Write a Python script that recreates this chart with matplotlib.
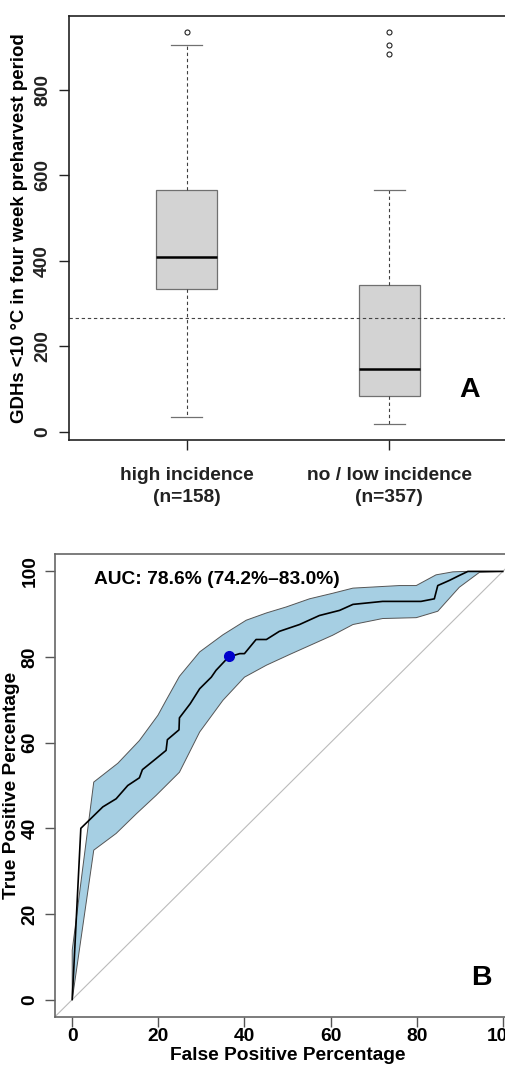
import matplotlib
matplotlib.use("Agg")
import matplotlib.pyplot as plt

plt.rcParams["font.family"] = ["Liberation Sans", "DejaVu Sans"]
plt.rcParams["font.weight"] = "bold"

FS = 13.8

# panel A: box plot summary of GDHs <10 °C
groups = ["high incidence\n(n=158)", "no / low incidence\n(n=357)"]
whis_lo = [34, 18]
q1 = [334, 84]
median = [408, 147]
q3 = [566, 344]
whis_hi = [905, 566]
outliers = [[934], [934, 904, 884]]
cutoff = 266

# panel B: ROC curve (false positive %, true positive %)
roc_fpr = [0, 2.0, 7.1, 10.2, 12.9, 15.6, 16.3, 19.5, 21.8, 22.1, 24.8, 24.9, 27.4,
           29.6, 32.3, 33.4, 36.3, 38.9, 40.0, 42.7, 45.1, 48.1, 52.8, 57.4, 62.1,
           65.2, 72.1, 81.0, 84.1, 84.9, 87.6, 90.0, 91.9, 100]
roc_tpr = [0, 40.0, 45.0, 46.9, 50.0, 51.8, 53.7, 56.3, 58.2, 60.7, 63.0, 65.8, 69.1,
           72.6, 75.3, 76.9, 80.0, 80.8, 80.8, 84.1, 84.1, 86.0, 87.6, 89.7, 90.9,
           92.3, 93.0, 93.0, 93.6, 96.7, 97.9, 99.1, 100, 100]
band_up_x = [0, 0, 5.0, 10.6, 15.6, 19.9, 21.8, 24.9, 29.6, 35.0, 40.4, 45.1, 49.7,
             55.1, 60.5, 65.2, 76.0, 79.9, 84.5, 88.4, 91.0, 100]
band_up_y = [0, 11.5, 50.8, 55.2, 60.5, 66.4, 69.9, 75.5, 81.2, 85.2, 88.6, 90.3, 91.7,
             93.6, 94.9, 96.1, 96.7, 96.7, 99.2, 99.9, 100, 100]
band_lo_x = [0, 5.0, 10.2, 14.9, 19.5, 24.9, 29.6, 35.0, 40.0, 45.1, 50.5, 60.5, 65.2,
             72.1, 79.9, 84.9, 89.9, 94.6, 100]
band_lo_y = [0, 34.9, 38.8, 43.4, 47.7, 53.1, 62.5, 69.9, 75.3, 78.1, 80.6, 85.1, 87.6,
             89.0, 89.2, 90.7, 96.3, 99.8, 100]
best_fpr = 36.5
best_tpr = 80.2
auc_text = "AUC: 78.6% (74.2%\u201383.0%)"

W, H = 505, 1066
fig = plt.figure(figsize=(W / 100, H / 100), dpi=100)
fig.patch.set_facecolor("white")

# ---------------- panel A ----------------
axA = fig.add_axes([69 / W, 1 - 440 / H, 438 / W, 424 / H])
stats = []
for i in range(len(groups)):
    stats.append(dict(med=median[i], q1=q1[i], q3=q3[i], whislo=whis_lo[i],
                      whishi=whis_hi[i], fliers=outliers[i], label=groups[i]))
axA.bxp(stats, positions=[1, 2], widths=0.3, patch_artist=True, showfliers=True,
        boxprops=dict(facecolor="#d3d3d3", edgecolor="#707070", linewidth=0.9),
        medianprops=dict(color="black", linewidth=1.8, solid_capstyle="butt"),
        whiskerprops=dict(color="#404040", linewidth=0.8, linestyle=(0, (3, 2.5))),
        capprops=dict(color="#707070", linewidth=0.9),
        flierprops=dict(marker="o", markersize=3.6, markerfacecolor="none",
                        markeredgecolor="#222222", markeredgewidth=0.8))
axA.axhline(cutoff, color="#444444", linewidth=0.8, linestyle=(0, (3, 2.5)))
axA.set_xlim(0.42, 2.58)
axA.set_ylim(-18.7, 972)
axA.set_yticks([0, 200, 400, 600, 800])
axA.set_xticks([1, 2])
axA.set_xticklabels(groups, fontsize=FS, fontweight="bold", linespacing=1.35)
axA.tick_params(axis="x", length=7, width=1, pad=12.5, colors="#222222")
axA.tick_params(axis="y", length=7, width=1, pad=6, labelsize=FS, labelrotation=90,
                colors="#222222")
for lab in axA.get_yticklabels():
    lab.set_va("center")
    lab.set_fontweight("bold")
for sp in axA.spines.values():
    sp.set_color("#222222")
    sp.set_linewidth(1.2)
axA.text(0.915, 0.118, "A", transform=axA.transAxes, fontsize=20.5, fontweight="bold",
         ha="center", va="center")
fig.text(20 / W, 1 - 228 / H, "GDHs <10 \u00b0C in four week preharvest period",
         rotation=90, ha="center", va="center", fontsize=13.4, fontweight="bold")

# ---------------- panel B ----------------
axB = fig.add_axes([55 / W, 1 - 1016.7 / H, 465 / W, 462.4 / H])
band_x = band_up_x + band_lo_x[::-1]
band_y = band_up_y + band_lo_y[::-1]
axB.fill(band_x, band_y, facecolor="#a6cfe3", edgecolor="#555555", linewidth=0.7)
axB.axline((0, 0), (100, 100), color="#bbbbbb", linewidth=0.8)
axB.plot(roc_fpr, roc_tpr, color="black", linewidth=1.2)
axB.plot([best_fpr], [best_tpr], "o", color="#0000cc", markersize=7)
axB.set_xlim(-4, 104)
axB.set_ylim(-4, 104)
axB.set_xticks([0, 20, 40, 60, 80, 100])
axB.set_yticks([0, 20, 40, 60, 80, 100])
axB.tick_params(axis="x", length=7, width=1, pad=1, labelsize=FS, colors="#555555",
                labelcolor="black")
axB.tick_params(axis="y", length=7, width=1, pad=5, labelsize=FS, labelrotation=90,
                colors="#555555", labelcolor="black")
for lab in axB.get_yticklabels():
    lab.set_va("center")
    lab.set_fontweight("bold")
for lab in axB.get_xticklabels():
    lab.set_fontweight("bold")
for sp in axB.spines.values():
    sp.set_color("#666666")
    sp.set_linewidth(1.2)
axB.text(5, 98, auc_text, fontsize=FS, fontweight="bold", ha="left", va="center")
axB.text(95, 5, "B", fontsize=20.5, fontweight="bold", ha="center", va="center")
fig.text(288 / W, 1 - 1055 / H, "False Positive Percentage", ha="center", va="center",
         fontsize=FS, fontweight="bold")
fig.text(12 / W, 1 - 785.5 / H, "True Positive Percentage", rotation=90, ha="center",
         va="center", fontsize=FS, fontweight="bold")

fig.savefig("out.png", dpi=100, facecolor="white")
